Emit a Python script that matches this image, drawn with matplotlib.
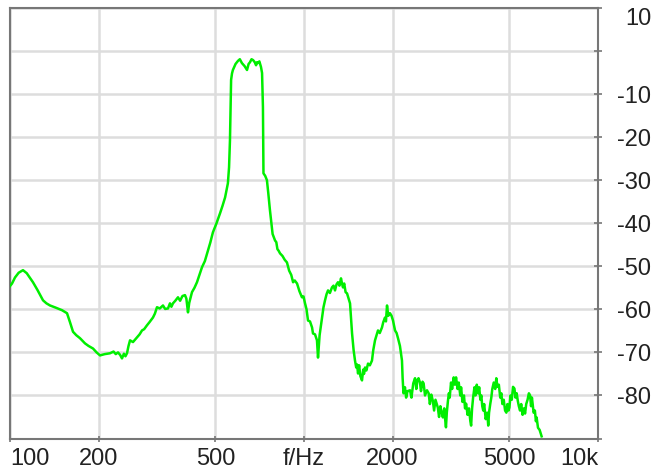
import matplotlib
matplotlib.use("Agg")
import matplotlib.pyplot as plt

plt.rcParams['font.family'] = ['Liberation Sans', 'DejaVu Sans']

# (frequency in Hz, level in dB)
response_points = [
    (100, -54.6), (101.6, -54.0), (104, -52.6), (107, -51.5), (110.7, -50.9), (114, -51.6), (119.7, -53.7),
    (124, -55.5), (129.5, -57.9), (133, -58.6), (136.8, -59.1), (143, -59.6), (150.3, -60.2), (156.3, -60.9),
    (160.0, -63.0), (163.8, -65.2), (168, -66.0), (173.0, -66.7), (179.9, -67.9), (185, -68.5), (191.6, -69.1),
    (197, -70.0), (202.4, -70.7), (210, -70.4), (218.9, -70.2), (225, -69.8), (229, -70.4), (233.0, -70.0),
    (237, -70.6), (240.4, -71.4), (244, -70.3), (247, -70.9), (250.0, -70.2), (253, -68.5), (256.0, -67.2),
    (262, -67.6), (270.4, -66.5), (276, -65.8), (281.2, -64.9), (286, -64.6), (292.4, -63.7), (298, -63.0),
    (306.4, -61.9), (311, -61.0), (316.2, -59.5), (323, -59.8), (331.4, -59.1), (337, -59.9), (344.6, -59.8),
    (350, -58.6), (354, -59.4), (358.4, -58.6), (365, -58.0), (372.7, -57.2), (379, -58.0), (386, -56.9),
    (393.7, -56.7), (398, -57.5), (403.1, -60.7), (407, -58.5), (415.9, -56.0), (424, -55.0), (432.5, -53.7),
    (440, -52.2), (449.9, -50.2), (460, -48.8), (471.5, -46.3), (480, -44.5), (490, -42.1), (504, -40.0),
    (518, -37.7), (528, -36.0), (539, -34.0), (546, -32.0), (551, -30.7), (556, -27.0), (560, -20.7),
    (563, -12.0), (565, -6.7), (569, -5.2), (573, -4.4), (585, -3.0), (596, -2.3), (605, -1.9),
    (615, -2.8), (628, -3.5), (640, -4.4), (648, -3.0), (655, -2.6), (663, -1.9), (671, -2.1),
    (680, -2.6), (687, -3.3), (692, -2.6), (697, -2.8), (705, -2.4), (714, -3.7), (720, -5.1),
    (725, -13.0), (728, -28.4), (738, -29.0), (748, -30.0), (756, -33.0), (766, -37.0), (775, -40.0),
    (782, -42.5), (797, -44.0), (805, -44.4), (812, -46.0), (820, -46.4), (829, -47.0), (845, -47.6),
    (860, -48.5), (875, -49.1), (890, -51.0), (905, -52.0), (918, -53.7), (930, -53.3), (947, -54.0),
    (965, -55.8), (984, -57.2), (996, -57.0), (1008, -58.6), (1020, -60.0), (1032, -62.6), (1048, -62.8),
    (1065, -64.2), (1073, -65.6), (1090, -65.8), (1107, -67.2), (1116, -71.2), (1130, -66.0),
    (1152, -61.9), (1165, -59.5), (1179, -57.9), (1193, -56.5), (1207, -55.6), (1225, -56.2),
    (1245, -54.9), (1260, -54.5), (1275, -55.6), (1290, -54.2), (1305, -53.7), (1320, -54.5),
    (1336, -52.8), (1345, -53.8), (1357, -54.9), (1370, -54.0), (1385, -56.0), (1401, -56.3),
    (1418, -57.5), (1434, -58.6), (1445, -62.0), (1457, -65.6), (1475, -69.5), (1491, -71.9),
    (1505, -73.5), (1515, -72.8), (1527, -74.9), (1540, -73.0), (1555, -75.5), (1575, -76.5),
    (1590, -74.0), (1600, -75.0), (1613, -73.5), (1630, -74.2), (1651, -72.6), (1675, -73.0),
    (1703, -71.9), (1720, -69.5), (1744, -67.2), (1765, -66.0), (1785, -64.9), (1810, -65.5),
    (1842, -64.2), (1860, -63.0), (1886, -61.9), (1900, -62.8), (1916, -59.1), (1935, -61.5),
    (1961, -60.9), (1985, -61.5), (2008, -62.6), (2025, -63.8), (2040, -64.9), (2065, -65.5),
    (2088, -66.7), (2120, -68.5), (2154, -71.9), (2165, -76.0), (2180, -79.5), (2205, -78.1),
    (2225, -80.5), (2250, -79.0), (2294, -78.8), (2320, -80.5), (2353, -77.2), (2386, -76.0),
    (2410, -78.5), (2430, -76.5), (2452, -76.0), (2480, -77.0), (2500, -79.0), (2530, -76.8),
    (2552, -77.2), (2580, -80.0), (2620, -78.8), (2655, -79.5), (2680, -82.0), (2710, -79.8),
    (2742, -81.2), (2770, -83.5), (2800, -81.0), (2852, -82.8), (2880, -85.0), (2910, -82.5),
    (2940, -84.0), (2967, -85.1), (3000, -83.0), (3020, -85.5), (3040, -87.4), (3060, -84.0),
    (3088, -81.2), (3110, -79.5), (3130, -80.5), (3163, -77.0), (3190, -78.5), (3230, -75.8),
    (3260, -77.5), (3290, -75.8), (3330, -78.5), (3360, -77.0), (3400, -80.0), (3422, -78.1),
    (3460, -81.5), (3500, -80.0), (3530, -83.0), (3559, -81.9), (3600, -84.5), (3640, -83.0),
    (3680, -86.0), (3702, -87.0), (3730, -83.0), (3760, -80.5), (3800, -78.1), (3830, -80.0),
    (3870, -77.5), (3910, -79.5), (3944, -78.1), (3980, -81.0), (4010, -80.0), (4040, -82.5),
    (4070, -83.5), (4100, -82.0), (4150, -85.5), (4200, -84.0), (4233, -87.0), (4260, -84.0),
    (4300, -82.0), (4336, -80.5), (4370, -78.5), (4420, -77.0), (4470, -78.5), (4509, -76.0),
    (4550, -78.0), (4600, -77.5), (4650, -80.5), (4690, -79.5), (4730, -82.0), (4780, -81.0),
    (4830, -83.5), (4878, -84.0), (4920, -82.0), (4960, -83.5), (4997, -82.8), (5040, -80.0),
    (5090, -81.0), (5140, -78.0), (5197, -78.4), (5240, -80.5), (5290, -79.5), (5334, -81.2),
    (5380, -82.5), (5430, -83.5), (5480, -82.0), (5540, -84.5), (5600, -83.0), (5648, -84.2),
    (5700, -82.0), (5760, -81.0), (5820, -79.5), (5875, -80.0), (5920, -82.5), (5960, -80.5),
    (5991, -81.9), (6040, -84.0), (6100, -83.5), (6150, -86.0), (6183, -85.1), (6250, -87.5),
    (6330, -88.0), (6430, -89.5),
]
freq_hz = [p[0] for p in response_points]
level_db = [p[1] for p in response_points]

x_ticks = [100, 200, 500, 1000, 2000, 5000, 10000]
x_tick_labels = ['100', '200', '500', 'f/Hz', '2000', '5000', '10k']
y_ticks = [10, 0, -10, -20, -30, -40, -50, -60, -70, -80, -90]
y_tick_labels = ['10', '', '-10', '-20', '-30', '-40', '-50', '-60', '-70', '-80', '']

fig = plt.figure(figsize=(6.56, 4.70), dpi=100)
ax = fig.add_axes([10 / 656, 1 - 438.5 / 470, 588 / 656, 430.5 / 470])
ax.set_xscale('log')
ax.set_xlim(100, 10000)
ax.set_ylim(-90, 10)

ax.plot(freq_hz, level_db, color='#00ee00', lw=1.8, zorder=3)

ax.set_xticks(x_ticks)
ax.set_xticklabels(x_tick_labels)
ax.xaxis.set_minor_locator(matplotlib.ticker.NullLocator())
ax.set_yticks(y_ticks)
ax.set_yticklabels(y_tick_labels)
ax.yaxis.tick_right()
ax.grid(True, color='#dddddd', lw=1.8, zorder=0)
for s in ax.spines.values():
    s.set_color('#777777')
    s.set_linewidth(1.5)

ax.tick_params(axis='x', direction='inout', length=5, width=1.2, color='#777777', labelsize=17, pad=4,
               labelcolor='#222222')
ax.tick_params(axis='y', direction='inout', length=6, width=1.2, color='#777777', labelsize=17, pad=35.5,
               labelcolor='#222222')
for lbl in ax.get_yticklabels():
    lbl.set_horizontalalignment('right')
ylabels = ax.get_yticklabels()
ylabels[0].set_verticalalignment('top')
xlabels = ax.get_xticklabels()
xlabels[0].set_horizontalalignment('left')
xlabels[-1].set_horizontalalignment('right')

fig.savefig('out.png', dpi=100)
